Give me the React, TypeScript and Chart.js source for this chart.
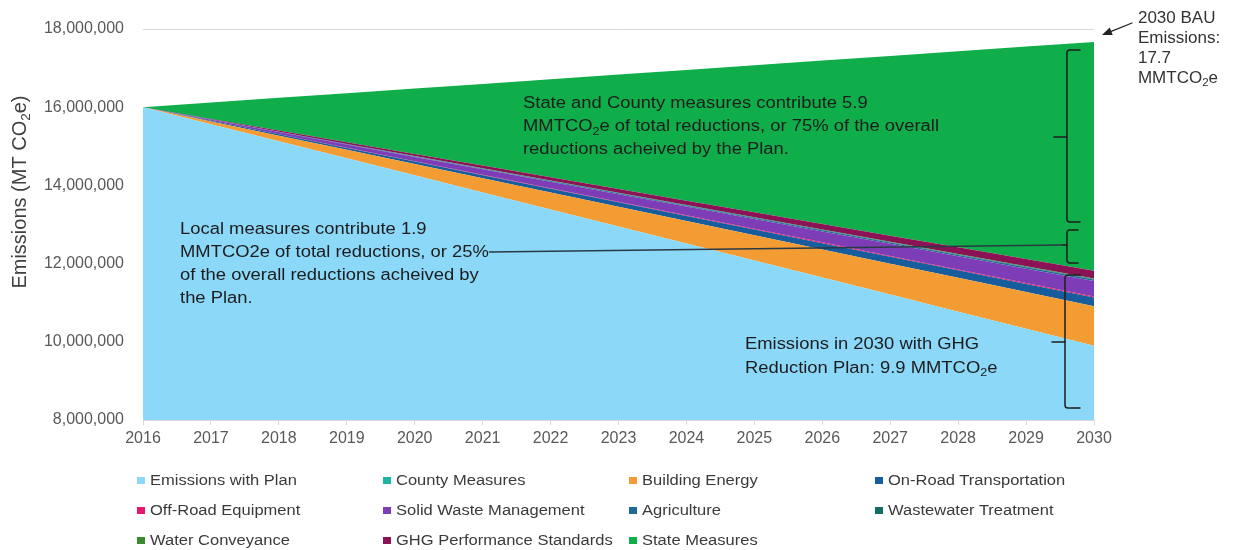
import React, { useEffect, useRef } from 'react';
import { Chart, registerables } from 'chart.js';

Chart.register(...registerables);

// ---------------- DATA ----------------
const years = ['2016', '2017', '2018', '2019', '2020', '2021', '2022', '2023', '2024', '2025', '2026', '2027', '2028', '2029', '2030'];

const emissionsWithPlan = [16000000, 15564000, 15129000, 14693000, 14257000, 13821000, 13386000, 12950000, 12514000, 12079000, 11643000, 11207000, 10771000, 10336000, 9900000];
const countyMeasures = [0, 0, 0, 0, 0, 0, 0, 0, 0, 0, 0, 0, 0, 0, 0];
const buildingEnergy = [0, 72000, 144000, 216000, 288000, 360000, 432000, 504000, 576000, 648000, 720000, 792000, 864000, 936000, 1008000];
const onRoadTransportation = [0, 16000, 32000, 48000, 64000, 80000, 96000, 112000, 128000, 144000, 160000, 176000, 192000, 208000, 224000];
const offRoadEquipment = [0, 2000, 4000, 6000, 8000, 10000, 12000, 14000, 16000, 18000, 20000, 22000, 24000, 26000, 28000];
const solidWasteManagement = [0, 28000, 56000, 84000, 112000, 140000, 168000, 196000, 224000, 252000, 280000, 308000, 336000, 364000, 392000];
const agriculture = [0, 3000, 6000, 9000, 12000, 15000, 18000, 21000, 24000, 27000, 30000, 33000, 36000, 39000, 42000];
const wastewaterTreatment = [0, 1000, 2000, 3000, 4000, 5000, 6000, 7000, 8000, 9000, 10000, 11000, 12000, 13000, 14000];
const waterConveyance = [0, 1000, 2000, 3000, 4000, 5000, 6000, 7000, 8000, 9000, 10000, 11000, 12000, 13000, 14000];
const ghgPerformanceStandards = [0, 14000, 28000, 42000, 56000, 70000, 84000, 98000, 112000, 126000, 140000, 154000, 168000, 182000, 196000];
const stateMeasures = [0, 418000, 836000, 1254000, 1672000, 2090000, 2508000, 2926000, 3344000, 3762000, 4180000, 4598000, 5016000, 5434000, 5852000];

const seriesLabels = [
  'Emissions with Plan', 'County Measures', 'Building Energy', 'On-Road Transportation',
  'Off-Road Equipment', 'Solid Waste Management', 'Agriculture', 'Wastewater Treatment',
  'Water Conveyance', 'GHG Performance Standards', 'State Measures',
];
const seriesValues = [
  emissionsWithPlan, countyMeasures, buildingEnergy, onRoadTransportation,
  offRoadEquipment, solidWasteManagement, agriculture, wastewaterTreatment,
  waterConveyance, ghgPerformanceStandards, stateMeasures,
];
const seriesColors = [
  '#8BD8F8', '#1FB3A6', '#F39C34', '#175C9C',
  '#E2176E', '#7C3DB6', '#1E6A97', '#116E62',
  '#3A8A2E', '#8B1254', '#10AE4B',
];

const yTickMin = 8000000;
const yTickMax = 18000000;
const yTickStep = 2000000;

// ---------------- ANNOTATIONS ----------------
const stateNote = ['State and County measures contribute 5.9', 'MMTCO_2e of total reductions, or 75% of the overall', 'reductions acheived by the Plan.'];
const localNote = ['Local measures contribute 1.9', 'MMTCO2e of total reductions, or 25%', 'of the overall reductions acheived by', 'the Plan.'];
const planNote = ['Emissions in 2030 with GHG', 'Reduction Plan: 9.9 MMTCO_2e'];
const bauNote = ['2030 BAU', 'Emissions:', '17.7', 'MMTCO_2e'];
const yTitle = 'Emissions (MT CO_2e)';

const FONT = '"Liberation Sans", Arial, Helvetica, sans-serif';
const STRETCH = 1.18;

function drawRich(ctx: CanvasRenderingContext2D, text: string, x: number, y: number, size: number, color: string, stretch: number) {
  const parts = text.split('_');
  ctx.save();
  ctx.translate(x, y);
  ctx.scale(stretch, 1);
  ctx.fillStyle = color;
  ctx.textBaseline = 'middle';
  ctx.textAlign = 'left';
  let cx = 0;
  parts.forEach((p, i) => {
    let seg = p;
    if (i > 0) {
      const sub = p.charAt(0);
      seg = p.slice(1);
      ctx.font = `${size * 0.68}px ${FONT}`;
      ctx.fillText(sub, cx, size * 0.3);
      cx += ctx.measureText(sub).width;
    }
    ctx.font = `${size}px ${FONT}`;
    ctx.fillText(seg, cx, 0);
    cx += ctx.measureText(seg).width;
  });
  ctx.restore();
}

function richWidth(ctx: CanvasRenderingContext2D, text: string, size: number) {
  const parts = text.split('_');
  let w = 0;
  ctx.save();
  parts.forEach((p, i) => {
    let seg = p;
    if (i > 0) {
      ctx.font = `${size * 0.68}px ${FONT}`;
      w += ctx.measureText(p.charAt(0)).width;
      seg = p.slice(1);
    }
    ctx.font = `${size}px ${FONT}`;
    w += ctx.measureText(seg).width;
  });
  ctx.restore();
  return w;
}

const annotationPlugin = {
  id: 'notes',
  afterDatasetsDraw(chart: any) {
    const ctx: CanvasRenderingContext2D = chart.ctx;
    const xs = chart.scales.x;
    const ys = chart.scales.y;
    const px = (i: number) => xs.getPixelForValue(i);
    const py = (v: number) => ys.getPixelForValue(v);

    const block = (lines: string[], xi: number, yv: number, size: number, lh: number, color: string, stretch: number) => {
      const x = px(xi);
      const y = py(yv);
      lines.forEach((l, k) => drawRich(ctx, l, x, y + k * lh, size, color, stretch));
    };

    block(stateNote, 5.594, 16080000, 15.6, 23, '#1c1c1c', STRETCH);
    block(localNote, 0.545, 12880000, 15.6, 23, '#1c1c1c', STRETCH);
    block(planNote, 8.862, 9920000, 15.6, 23.5, '#1c1c1c', STRETCH);
    block(bauNote, 14.647, 18280000, 17, 20, '#333333', 1);

    ctx.save();
    ctx.strokeStyle = '#1e1e1e';
    ctx.lineWidth = 1.5;
    ctx.lineCap = 'round';
    ctx.lineJoin = 'round';

    const brace = (xv: number, hook: number, top: number, bottom: number, mid: number, tick: number) => {
      const X = px(xv), H = px(hook), T = py(top), B = py(bottom), M = py(mid), K = px(tick);
      const r = 3;
      ctx.beginPath();
      ctx.moveTo(H, T);
      ctx.lineTo(X + r, T);
      ctx.quadraticCurveTo(X, T, X, T + r);
      ctx.lineTo(X, B - r);
      ctx.quadraticCurveTo(X, B, X + r, B);
      ctx.lineTo(H, B);
      ctx.stroke();
      ctx.beginPath();
      ctx.moveTo(X, M);
      ctx.lineTo(K, M);
      ctx.stroke();
    };
    brace(13.602, 13.794, 17463000, 13064000, 15238000, 13.411);
    brace(13.602, 13.764, 12859000, 12015000, 12476000, 13.529);
    brace(13.573, 13.794, 11708000, 8307000, 9995000, 13.382);

    // connector from the local-measures note to the middle brace
    ctx.strokeStyle = '#2a3a44';
    ctx.beginPath();
    ctx.moveTo(px(5.1), py(12297000));
    ctx.lineTo(px(13.529), py(12476000));
    ctx.stroke();

    // arrow to the 2030 BAU value
    const ax0 = px(14.559), ay0 = py(18153000), ax1 = px(14.117), ay1 = py(17846000);
    const ang = Math.atan2(ay1 - ay0, ax1 - ax0);
    ctx.strokeStyle = '#222';
    ctx.fillStyle = '#222';
    ctx.lineWidth = 1.3;
    ctx.beginPath();
    ctx.moveTo(ax0, ay0);
    ctx.lineTo(ax1 - 6 * Math.cos(ang), ay1 - 6 * Math.sin(ang));
    ctx.stroke();
    ctx.beginPath();
    ctx.moveTo(ax1, ay1);
    ctx.lineTo(ax1 - 10 * Math.cos(ang) + 4 * Math.sin(ang), ay1 - 10 * Math.sin(ang) - 4 * Math.cos(ang));
    ctx.lineTo(ax1 - 10 * Math.cos(ang) - 4 * Math.sin(ang), ay1 - 10 * Math.sin(ang) + 4 * Math.cos(ang));
    ctx.closePath();
    ctx.fill();
    ctx.restore();

    // y-axis title (top of text near the 16,000,000 tick)
    const size = 20;
    const w = richWidth(ctx, yTitle, size);
    const topY = py(16300000);
    ctx.save();
    ctx.translate(20, topY + w);
    ctx.rotate(-Math.PI / 2);
    drawRich(ctx, yTitle, 0, 0, size, '#404040', 1);
    ctx.restore();
  },
};

const legendCols = [137, 383, 629, 875];
const legendRows = [480, 510, 540];

export default function App() {
  const ref = useRef<HTMLCanvasElement | null>(null);

  useEffect(() => {
    if (!ref.current) return;
    const chart = new Chart(ref.current, {
      type: 'line',
      data: {
        labels: years,
        datasets: seriesLabels.map((label, i) => ({
          label,
          data: seriesValues[i],
          backgroundColor: seriesColors[i],
          borderColor: seriesColors[i],
          borderWidth: 0,
          pointRadius: 0,
          pointHoverRadius: 0,
          tension: 0,
          fill: i === 0 ? 'origin' : '-1',
        })),
      },
      options: {
        responsive: false,
        animation: false,
        events: [],
        layout: { padding: { left: 0, right: 139, top: 29, bottom: 100 } },
        plugins: {
          legend: { display: false },
          tooltip: { enabled: false },
        },
        scales: {
          x: {
            type: 'category',
            offset: false,
            grid: { display: true, drawOnChartArea: false, drawTicks: true, tickLength: 5, color: '#d9d9d9' },
            border: { display: true, color: '#d9d9d9' },
            ticks: { color: '#595959', font: { family: FONT, size: 16 }, padding: 4, maxRotation: 0, autoSkip: false },
            afterFit: (s: any) => { s.height = 30; },
          },
          y: {
            stacked: true,
            min: yTickMin,
            max: yTickMax,
            ticks: {
              stepSize: yTickStep,
              color: '#595959',
              font: { family: FONT, size: 16 },
              padding: 19,
              callback: (v: any) => Number(v).toLocaleString('en-US'),
            },
            grid: { color: '#d9d9d9', drawTicks: false },
            border: { display: false },
            afterFit: (s: any) => { s.width = 143; },
          },
        },
      },
      plugins: [annotationPlugin],
    });
    return () => chart.destroy();
  }, []);

  return (
    <div style={{ position: 'fixed', left: 0, top: 0, width: 1233, height: 550, background: '#fff', fontFamily: FONT }}>
      <canvas ref={ref} width={1233} height={550} style={{ position: 'absolute', left: 0, top: 0 }} />
      {seriesLabels.map((label, i) => {
        const left = legendCols[i % 4];
        const top = legendRows[Math.floor(i / 4)];
        return (
          <div key={label} style={{ position: 'absolute', left, top: top - 9, height: 18, display: 'flex', alignItems: 'center', whiteSpace: 'nowrap' }}>
            <span style={{ display: 'inline-block', width: 8, height: 7, background: seriesColors[i], marginRight: 5 }} />
            <span style={{ display: 'inline-block', fontSize: 14, color: '#3a3a3a', transform: `scaleX(${STRETCH})`, transformOrigin: 'left center' }}>{label}</span>
          </div>
        );
      })}
    </div>
  );
}
